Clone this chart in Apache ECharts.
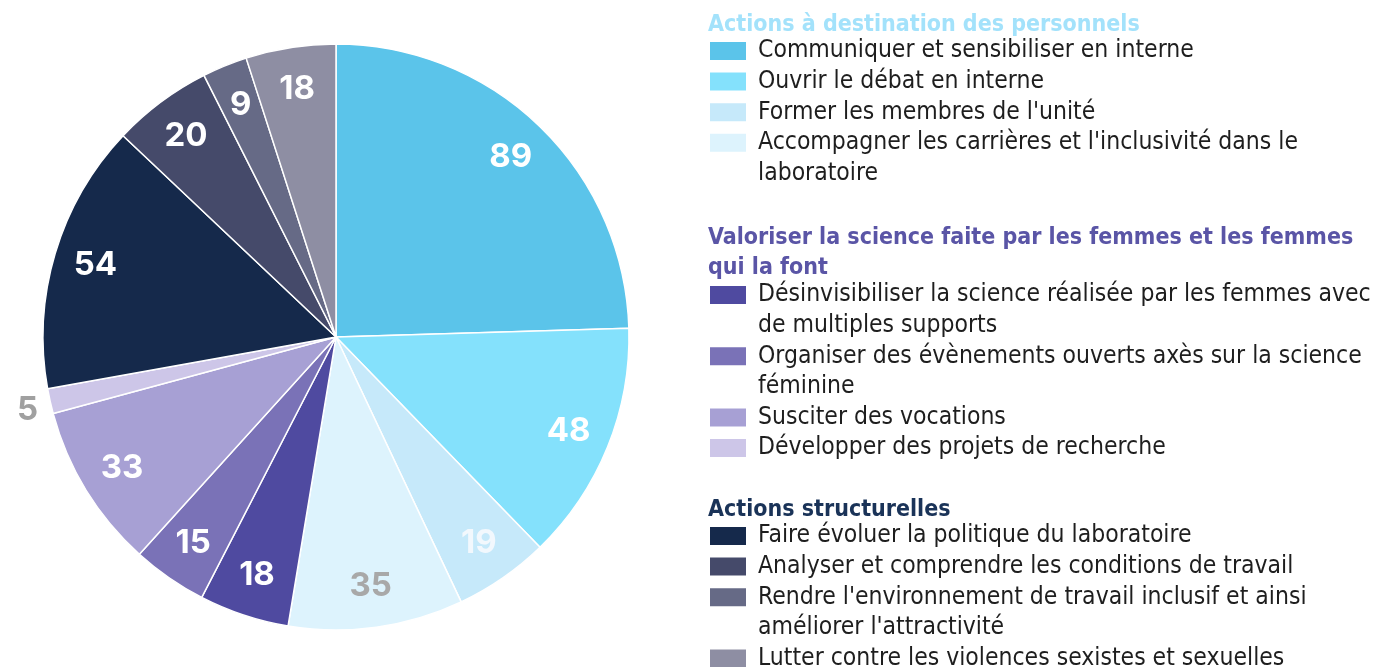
<!DOCTYPE html>
<html>
<head>
<meta charset="utf-8">
<script src="https://cdn.jsdelivr.net/npm/echarts@6/dist/echarts.min.js"></script>
<style>
  html, body { margin: 0; padding: 0; background: #fff; }
  #chart-panel { width: 1377px; height: 667px; }
</style>
</head>
<body>
<div id="chart-panel"></div>
<script>
// catégories, dans l'ordre du camembert (départ en haut, sens horaire)
var categories = [
    'Communiquer et sensibiliser en interne',
    'Ouvrir le débat en interne',
    "Former les membres de l'unité",
    "Accompagner les carrières et l'inclusivité dans le laboratoire",
    'Désinvisibiliser la science réalisée par les femmes avec de multiples supports',
    'Organiser des évènements ouverts axès sur la science féminine',
    'Susciter des vocations',
    'Développer des projets de recherche',
    'Faire évoluer la politique du laboratoire',
    'Analyser et comprendre les conditions de travail',
    "Rendre l'environnement de travail inclusif et ainsi améliorer l'attractivité",
    'Lutter contre les violences sexistes et sexuelles'
];
var values = [89, 48, 19, 35, 18, 15, 33, 5, 54, 20, 9, 18];
var colors = [
    '#5bc4ea', '#84e1fc', '#c6e9fa', '#ddf3fd',
    '#4f4aa0', '#7a72b7', '#a7a0d4', '#cdc6e8',
    '#15294b', '#454a6a', '#666a86', '#8e8ea3'
];
// texte de légende avec les retours à la ligne
var legendLabels = [
    'Communiquer et sensibiliser en interne',
    'Ouvrir le débat en interne',
    "Former les membres de l'unité",
    "Accompagner les carrières et l'inclusivité dans le\nlaboratoire",
    'Désinvisibiliser la science réalisée par les femmes avec\nde multiples supports',
    'Organiser des évènements ouverts axès sur la science\nféminine',
    'Susciter des vocations',
    'Développer des projets de recherche',
    'Faire évoluer la politique du laboratoire',
    'Analyser et comprendre les conditions de travail',
    "Rendre l'environnement de travail inclusif et ainsi\naméliorer l'attractivité",
    'Lutter contre les violences sexistes et sexuelles'
];
var groupTitles = [
    'Actions à destination des personnels',
    'Valoriser la science faite par les femmes et les femmes\nqui la font',
    'Actions structurelles'
];
var groupColors = ['#a3e2fb', '#5a55a6', '#1a3358'];
var groupMembers = [[0, 1, 2, 3], [4, 5, 6, 7], [8, 9, 10, 11]];
var groupTitleY = [25, 238, 510];   // centre de la 1re ligne du titre
var groupFirstRowY = [51, 295, 536]; // centre du 1er carré de légende

var labelColors = ['#fff', '#fff', '#f2f8fd', '#a8a8a8', '#fff', '#fff', '#fff', '#a0a0a0', '#fff', '#fff', '#fff', '#fff'];

var textFont = '"DejaVu Sans Condensed", "Liberation Sans Narrow", Roboto, sans-serif';
var numFont = 'Inter, Roboto, sans-serif';
var center = [336, 337];
var R = 293;
var LINE = 30.6;

var pieData = categories.map(function (name, i) {
    return { name: name, value: values[i], itemStyle: { color: colors[i] } };
});

var labelData = categories.map(function (name, i) {
    var item = {
        name: name,
        value: values[i],
        label: { color: labelColors[i] }
    };
    if (values[i] < 8) {
        // petite part : étiquette à l'extérieur, un peu plus bas
        item.label.position = 'outside';
        item.label.distanceToLabelLine = 12;
        item.label.formatter = '\n{c}';
        item.label.lineHeight = 18;
        item.labelLine = { show: false, length: 0, length2: 0 };
    }
    return item;
});

var titles = groupTitles.map(function (t, g) {
    return {
        text: t,
        left: 708,
        top: groupTitleY[g] - 15,
        padding: 0,
        textStyle: {
            fontFamily: textFont,
            fontWeight: 'bold',
            fontSize: 23,
            lineHeight: 30,
            color: groupColors[g]
        }
    };
});

// une légende par entrée pour aligner le carré sur la 1re ligne
var legends = [];
groupMembers.forEach(function (members, g) {
    var y = groupFirstRowY[g];
    members.forEach(function (i) {
        var wrapped = legendLabels[i].indexOf('\n') >= 0;
        legends.push({
            orient: 'vertical',
            left: 708,
            top: y - (wrapped ? 1.5 : 0.5) * LINE,
            padding: 0,
            itemWidth: 38,
            itemHeight: 20,
            icon: 'rect',
            selectedMode: false,
            data: [categories[i]],
            formatter: function () {
                return (wrapped ? '\n' : '') + legendLabels[i];
            },
            textStyle: {
                fontFamily: textFont,
                fontSize: 24.5,
                lineHeight: LINE,
                padding: [0, 0, 0, 6],
                color: '#1e1e1e'
            }
        });
        y += (wrapped ? 2 : 1) * LINE;
    });
});

var chartOption = {
    backgroundColor: '#fff',
    animation: false,
    title: titles,
    legend: legends,
    series: [{
        type: 'pie',
        center: center,
        radius: [0, R],
        startAngle: 90,
        clockwise: true,
        label: { show: false },
        labelLine: { show: false },
        itemStyle: { borderColor: '#fff', borderWidth: 1.5 },
        data: pieData
    }, {
        // anneau transparent qui porte les étiquettes
        type: 'pie',
        center: center,
        radius: [203, R],
        startAngle: 90,
        clockwise: true,
        silent: true,
        legendHoverLink: false,
        avoidLabelOverlap: false,
        itemStyle: { color: 'transparent' },
        label: {
            show: true,
            position: 'inside',
            formatter: '{c}',
            fontFamily: numFont,
            fontWeight: 'bold',
            fontSize: 33
        },
        labelLine: { show: false },
        data: labelData
    }]
};

var chartPanel = document.getElementById('chart-panel');
var myChart = echarts.init(chartPanel);
myChart.setOption(chartOption);
</script>
</body>
</html>
